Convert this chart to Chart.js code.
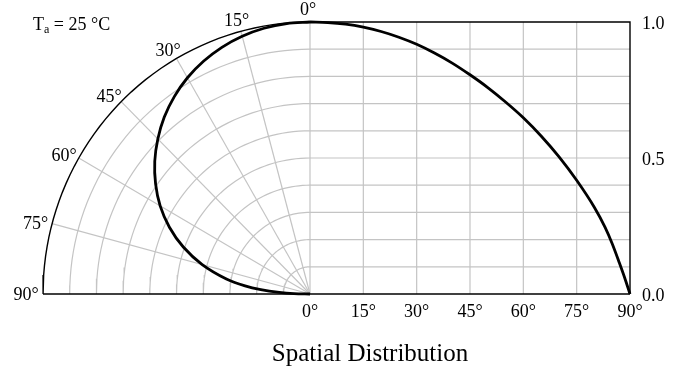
<!DOCTYPE html>
<html>
<head>
<meta charset="utf-8">
<script src="https://cdn.jsdelivr.net/npm/chart.js@4"></script>
<style>
    body { margin: 0; background: #ffffff; }
    canvas { display: block; }
</style>
</head>
<body>
<canvas id="distChart" width="683" height="370"></canvas>
<script>
// Relative intensity vs. emission angle
const angles = [0, 5, 10, 15, 20, 25, 30, 35, 40, 45, 50, 55, 60, 65, 70, 75, 80, 83, 85, 87, 88.5, 90];
const intensity = [1.0, 0.998, 0.992, 0.981, 0.965, 0.944, 0.918, 0.886, 0.849, 0.806, 0.759, 0.706, 0.648, 0.581, 0.505, 0.418, 0.318, 0.245, 0.185, 0.115, 0.06, 0.0];

const angleTicks = [0, 15, 30, 45, 60, 75, 90];
const intensityTicks = [0.0, 0.5, 1.0];
const gridSteps = [0.1, 0.2, 0.3, 0.4, 0.5, 0.6, 0.7, 0.8, 0.9];

const titleText = 'Spatial Distribution';
const tempLabel = ['T', 'a', ' = 25 °C'];

// width of the cartesian half, in polar radius units
const CART_W = 320 / 267;
const FONT = '"Liberation Serif", "DejaVu Serif", serif';
const GRID = '#c4c4c4';

const rad = (a) => a * Math.PI / 180;
const angleX = (a) => a / 90 * CART_W;

const line = (data, color, width, order) => ({
    data: data,
    showLine: true,
    borderColor: color,
    borderWidth: width,
    pointRadius: 0,
    fill: false,
    clip: false,
    order: order
});

const arc = (r) => {
    const pts = [];
    for (let a = 0; a <= 90; a += 2) pts.push({ x: -r * Math.sin(rad(a)), y: r * Math.cos(rad(a)) });
    return pts;
};

const datasets = [];

// polar grid
gridSteps.forEach(r => datasets.push(line(arc(r), GRID, 1.2, 3)));
angleTicks.filter(a => a < 90).forEach(a => {
    datasets.push(line([{ x: 0, y: 0 }, { x: -Math.sin(rad(a)), y: Math.cos(rad(a)) }], GRID, 1.2, 3));
});

// cartesian grid
angleTicks.filter(a => a > 0 && a < 90).forEach(a => {
    datasets.push(line([{ x: angleX(a), y: 0 }, { x: angleX(a), y: 1 }], GRID, 1.2, 3));
});
gridSteps.forEach(r => datasets.push(line([{ x: 0, y: r }, { x: CART_W, y: r }], GRID, 1.2, 3)));

// black frame
datasets.push(line(arc(1), '#000', 1.4, 2));
datasets.push(line([{ x: -1, y: 0 }, { x: CART_W, y: 0 }], '#000', 1.4, 2));
datasets.push(line([{ x: 0, y: 1 }, { x: CART_W, y: 1 }, { x: CART_W, y: 0 }], '#000', 1.4, 2));

// the curves
const cartCurve = angles.map((a, i) => ({ x: angleX(a), y: intensity[i] }));
const polarCurve = angles.map((a, i) => ({ x: -intensity[i] * Math.sin(rad(a)), y: intensity[i] * Math.cos(rad(a)) }));
datasets.push(Object.assign(line(cartCurve, '#000', 2.8, 1), { cubicInterpolationMode: 'monotone' }));
datasets.push(Object.assign(line(polarCurve, '#000', 2.8, 1), { tension: 0.3 }));

const labelsPlugin = {
    id: 'labels',
    afterDraw(chart) {
        const ctx = chart.ctx;
        const xs = chart.scales.x;
        const ys = chart.scales.y;
        const area = chart.chartArea;
        ctx.save();
        ctx.fillStyle = '#000';
        ctx.font = '18px ' + FONT;

        // angle ticks under the cartesian part
        ctx.textAlign = 'center';
        ctx.textBaseline = 'middle';
        angleTicks.forEach(a => {
            ctx.fillText(a + '°', xs.getPixelForValue(angleX(a)), area.bottom + 18);
        });

        // intensity ticks on the right
        ctx.textAlign = 'left';
        intensityTicks.forEach(v => {
            ctx.fillText(v.toFixed(1), area.right + 12, ys.getPixelForValue(v) + 2);
        });

        // polar angle labels around the rim
        ctx.textAlign = 'center';
        angleTicks.forEach(a => {
            const s = Math.sin(rad(a)), c = Math.cos(rad(a));
            const px = xs.getPixelForValue(-s) - 17 * s;
            const py = ys.getPixelForValue(c) - 12 * c * c + 1.5;
            ctx.fillText(a + '°', px - (a === 0 ? 2 : 0), py - (a === 0 ? 1.5 : 0));
        });

        // ambient temperature note
        ctx.textAlign = 'left';
        ctx.textBaseline = 'alphabetic';
        let tx = 33;
        const ty = 30;
        ctx.fillText(tempLabel[0], tx, ty);
        tx += ctx.measureText(tempLabel[0]).width;
        ctx.font = '12px ' + FONT;
        ctx.fillText(tempLabel[1], tx, ty + 3);
        tx += ctx.measureText(tempLabel[1]).width;
        ctx.font = '18px ' + FONT;
        ctx.fillText(tempLabel[2], tx, ty);

        // title
        ctx.font = '25px ' + FONT;
        ctx.textAlign = 'center';
        ctx.textBaseline = 'middle';
        ctx.fillText(titleText, 370, 354);
        ctx.restore();
    }
};

new Chart(document.getElementById('distChart'), {
    type: 'scatter',
    data: { datasets: datasets },
    options: {
        responsive: false,
        animation: false,
        layout: { padding: { left: 43, right: 53, top: 22, bottom: 76 } },
        plugins: {
            legend: { display: false },
            tooltip: { enabled: false },
            title: { display: false }
        },
        scales: {
            x: { type: 'linear', display: false, min: -1, max: CART_W },
            y: { type: 'linear', display: false, min: 0, max: 1 }
        }
    },
    plugins: [labelsPlugin]
});
</script>
</body>
</html>
